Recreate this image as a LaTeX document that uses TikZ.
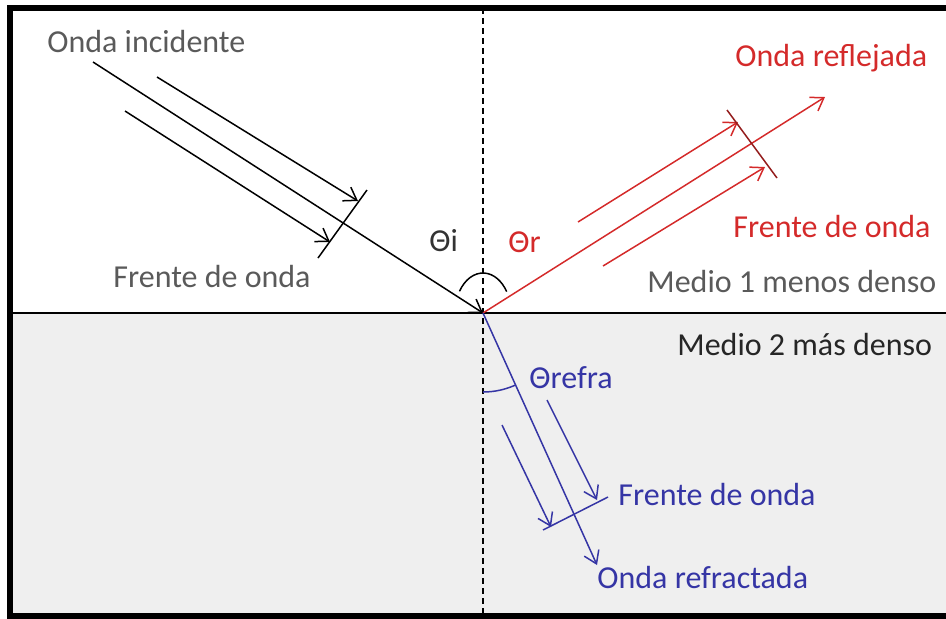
\documentclass[tikz,border=0pt]{standalone}
\usepackage{fontspec}
\setmainfont{Carlito}
\usetikzlibrary{arrows.meta, positioning}
\definecolor{txtgray}{HTML}{5A5A5A}
\definecolor{refl}{HTML}{D42A2A}
\definecolor{refr}{HTML}{3535A5}
\definecolor{medio}{HTML}{EFEFEF}
\tikzstyle{ray} = [line width=0.75pt, -{Straight Barb[length=6pt,width=8pt]}]
\tikzstyle{front} = [line width=0.75pt]
\tikzstyle{lbl} = [inner sep=0pt, anchor=base west, font=\fontsize{16}{19}\selectfont]

\begin{document}
\begin{tikzpicture}[x=0.5pt, y=-0.5pt]
            \useasboundingbox (0,0) rectangle (946,618);
            % medios
            \fill[medio] (10,313) rectangle (960,616);
            \draw[line width=3pt] (10,8) rectangle (960,616);
            \draw[line width=0.75pt] (10,313) -- (960,313);
            \draw[line width=0.75pt, dash pattern=on 3pt off 2pt] (483,8) -- (483,616);

            \coordinate (O) at (483,313);
            % onda incidente
            \coordinate (inc) at (93,62);
            \coordinate (incA) at (157,77);
            \coordinate (incAe) at (358,201);
            \coordinate (incB) at (125,111);
            \coordinate (incBe) at (330,242);
            \coordinate (incF1) at (367,190);
            \coordinate (incF2) at (318,258);
            \draw [ray] (inc) -- (O);
            \draw [ray] (incA) -- (incAe);
            \draw [ray] (incB) -- (incBe);
            \draw [front] (incF1) -- (incF2);

            % onda reflejada
            \coordinate (refl) at (825,97);
            \coordinate (reflA) at (578,222);
            \coordinate (reflAe) at (738,122);
            \coordinate (reflB) at (603,266);
            \coordinate (reflBe) at (765,167);
            \coordinate (reflF1) at (727,110);
            \coordinate (reflF2) at (777,178);
            \draw [ray, refl] (O) -- (refl);
            \draw [ray, refl] (reflA) -- (reflAe);
            \draw [ray, refl] (reflB) -- (reflBe);
            \draw [front, refl!70!black] (reflF1) -- (reflF2);

            % onda refractada
            \coordinate (refr) at (597,565);
            \coordinate (refrA) at (547,400);
            \coordinate (refrAe) at (597,500);
            \coordinate (refrB) at (502,425);
            \coordinate (refrBe) at (551,527);
            \coordinate (refrF1) at (543,530);
            \coordinate (refrF2) at (608,497);
            \draw [ray, refr] (O) -- (refr);
            \draw [ray, refr] (refrA) -- (refrAe);
            \draw [ray, refr] (refrB) -- (refrBe);
            \draw [front, refr] (refrF1) -- (refrF2);

            % angulos
            \draw [front] (O) ++(212.8:28 and 40) arc[start angle=212.8, end angle=327.7, x radius=28, y radius=40];
            \draw [front, refr] (O) ++(90:79) arc[start angle=90, end angle=65.6, radius=79];

            % textos
            \node (incident) [lbl, txtgray] at (47,52) {Onda incidente};
            \node (incfront) [lbl, txtgray] at (113,287) {Frente de onda};
            \node (thetai) [lbl, black!80] at (429,251) {Θi};
            \node (thetar) [lbl, refl] at (508,252) {Θr};
            \node (reflected) [lbl, refl] at (735,66) {Onda reflejada};
            \node (reflfront) [lbl, refl] at (733,237) {Frente de onda};
            \node (medio1) [lbl, txtgray] at (647,292) {Medio 1 menos denso};
            \node (medio2) [lbl, black!85] at (677,355) {Medio 2 más denso};
            \node (thetarefra) [lbl, refr] at (529,388) {Θrefra};
            \node (refrfront) [lbl, refr] at (618,505) {Frente de onda};
            \node (refracted) [lbl, refr] at (597,588) {Onda refractada};
\end{tikzpicture}
\end{document}
